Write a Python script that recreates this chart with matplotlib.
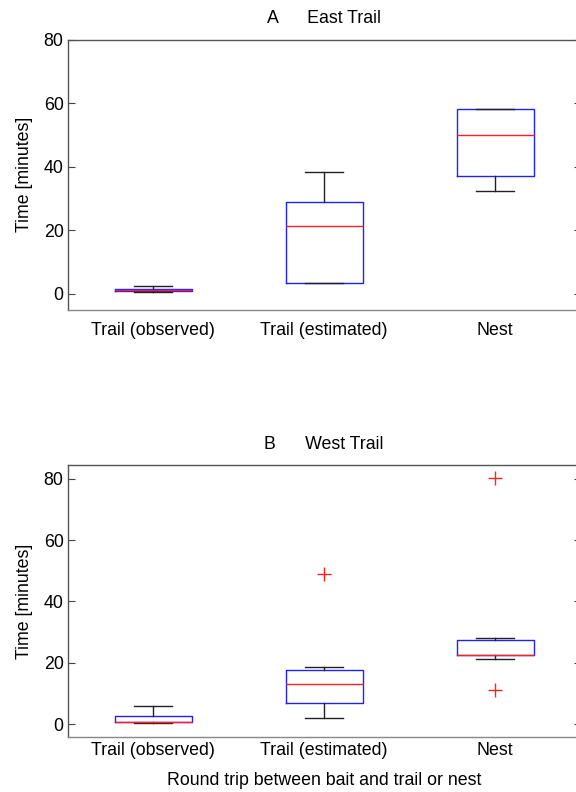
import matplotlib
matplotlib.use("Agg")
import matplotlib.pyplot as plt

plt.rcParams['font.family'] = ['Liberation Sans', 'DejaVu Sans']

categories = ['Trail (observed)', 'Trail (estimated)', 'Nest']

# A - East Trail (box statistics)
east_whislo = [0.5, 3.4, 32.3]
east_q1 = [0.8, 3.4, 37.1]
east_med = [1.1, 21.3, 50.0]
east_q3 = [1.5, 28.9, 58.0]
east_whishi = [2.4, 38.2, 58.0]
east_fliers = [[], [], []]

# B - West Trail
west_whislo = [0.4, 2.0, 21.3]
west_q1 = [0.7, 6.9, 22.7]
west_med = [0.8, 13.0, 22.7]
west_q3 = [2.7, 17.6, 27.3]
west_whishi = [5.8, 18.7, 28.0]
west_fliers = [[], [49.0], [80.2, 11.0]]

FS = 12.8


def make_stats(lo, q1, med, q3, hi, fl):
    out = []
    for i in range(len(categories)):
        out.append(dict(whislo=lo[i], q1=q1[i], med=med[i], q3=q3[i],
                        whishi=hi[i], fliers=fl[i], label=categories[i]))
    return out


def draw(ax, stats, title, ylim, xpad):
    ax.bxp(stats, positions=[1, 2, 3], widths=0.45, showfliers=True,
           boxprops=dict(color='#2020ff', linewidth=1.0),
           medianprops=dict(color='#ff2020', linewidth=1.0),
           whiskerprops=dict(color='#222222', linewidth=1.0),
           capprops=dict(color='#222222', linewidth=1.0),
           flierprops=dict(marker='+', markeredgecolor='#ff2020',
                           markersize=10, markeredgewidth=1.0, linestyle='none'),
           capwidths=0.225)
    ax.set_xlim(0.5, 3.5)
    ax.set_ylim(*ylim)
    ax.set_yticks([0, 20, 40, 60, 80])
    ax.tick_params(axis='y', direction='in', length=5, width=0.8,
                   left=True, right=True, labelsize=FS, color='#444444', pad=3)
    ax.tick_params(axis='x', length=0, labelsize=FS, pad=xpad)
    for s in ax.spines.values():
        s.set_color('#555555')
        s.set_linewidth(1.0)
    ax.spines['bottom'].set_color('#888888')
    ax.set_title(title, fontsize=FS, pad=12)
    ax.set_ylabel('Time [minutes]', fontsize=FS, labelpad=8)


fig = plt.figure(figsize=(5.76, 7.92), dpi=100)
ax1 = fig.add_axes([67.7 / 576, 1 - 309.5 / 792, 513 / 576, 270 / 792])
ax2 = fig.add_axes([67.7 / 576, 1 - 736.7 / 792, 513 / 576, 271.4 / 792])

draw(ax1, make_stats(east_whislo, east_q1, east_med, east_q3, east_whishi, east_fliers),
     'A      East Trail', (-5, 80), 9)
draw(ax2, make_stats(west_whislo, west_q1, west_med, west_q3, west_whishi, west_fliers),
     'B      West Trail', (-4.1, 84.4), 3.5)
ax2.set_xlabel('Round trip between bait and trail or nest', fontsize=FS, labelpad=10)

fig.savefig('out.png', dpi=100)
